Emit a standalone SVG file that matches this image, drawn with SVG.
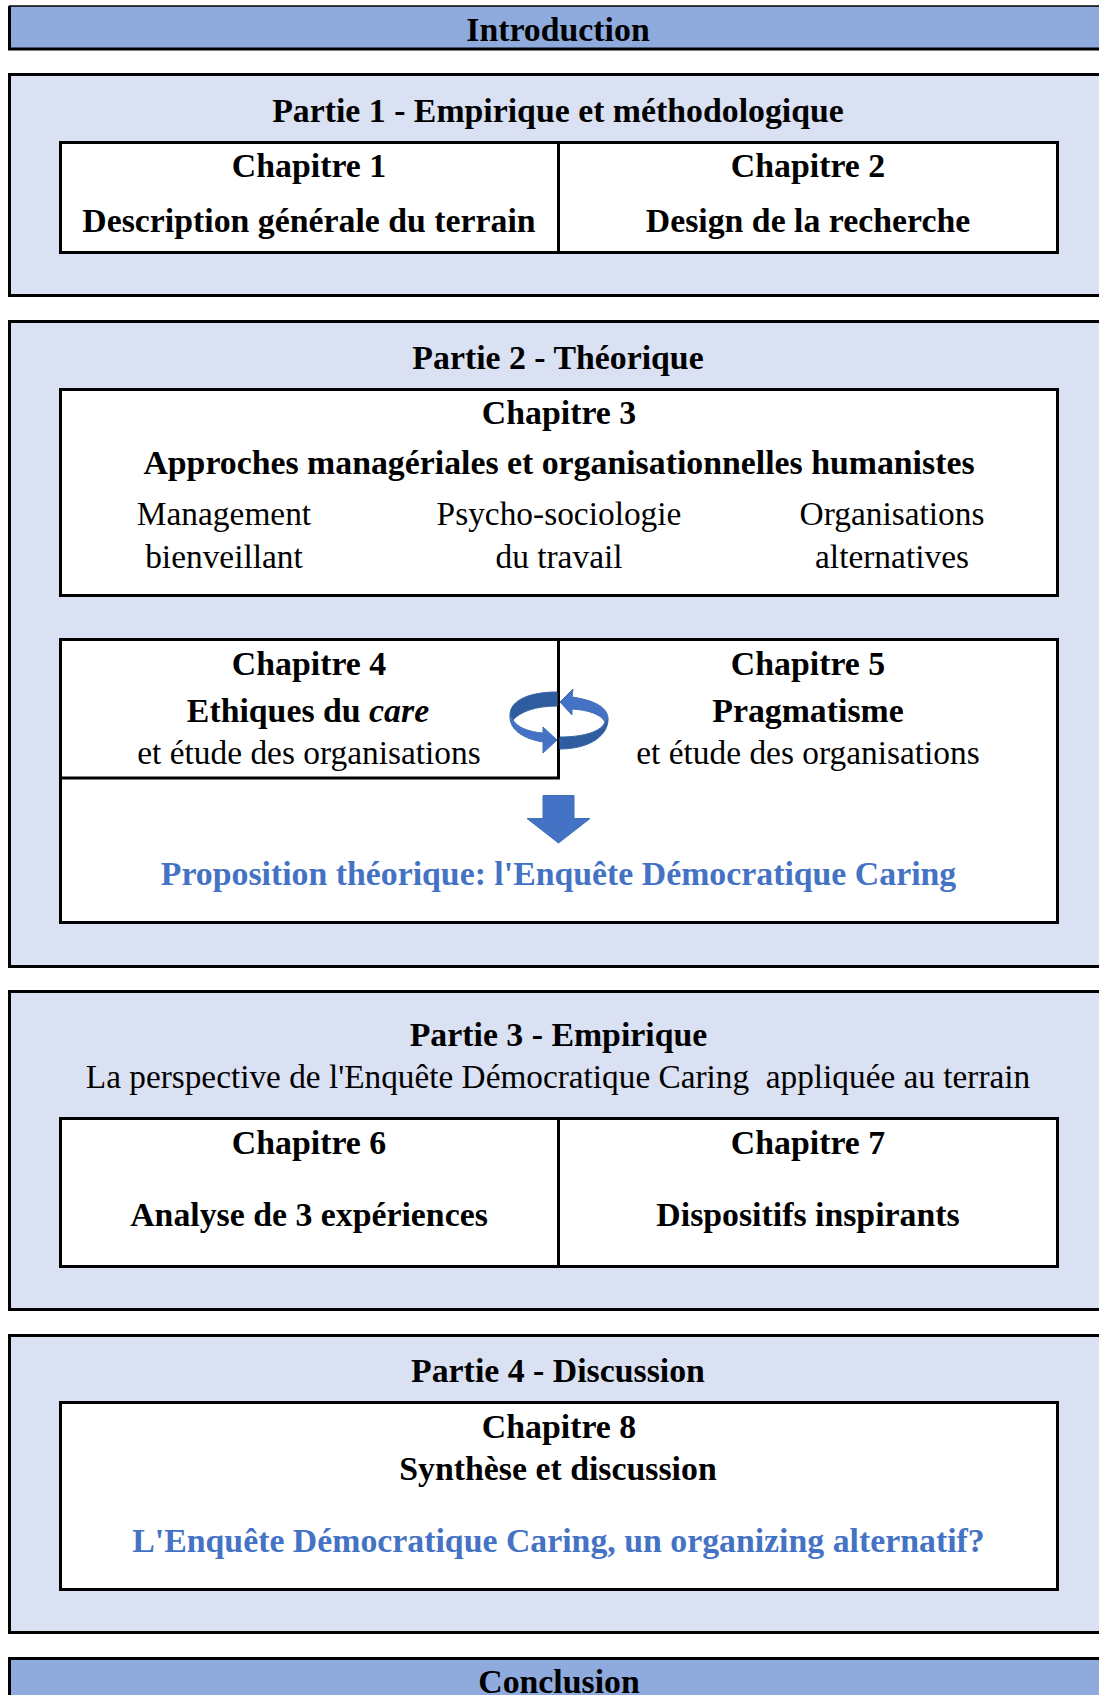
<svg xmlns="http://www.w3.org/2000/svg" width="1099" height="1695" viewBox="0 0 1099 1695">
<style>
text{font-family:"Liberation Serif","Times New Roman",serif;font-size:33.4px;text-anchor:middle;fill:#000}
.b{font-weight:bold;font-size:33.8px}
.l{fill:#4472c4;font-weight:bold;font-size:33.8px}
.dark{fill:#8faadc;stroke:#000;stroke-width:3}
.part{fill:#dae1f3;stroke:#000;stroke-width:3}
.box{fill:#fff;stroke:#000;stroke-width:3}
.ln{fill:none;stroke:#000;stroke-width:3}
.ar{fill:#4472c4;stroke:#3f6fb5;stroke-width:1}
.ard{fill:#2f5c9e;stroke:#3566a8;stroke-width:1}
</style>
<rect width="1099" height="1695" fill="#fff"/>
<g id="intro"><rect x="9.500" y="6" width="1095" height="43" fill="#8faadc"/><path class="ln" d="M8 49H1099M9.500 6V50"/><path d="M9 6H1099" stroke="#000" stroke-width="1.500" fill="none"/><text class="b" x="558" y="41">Introduction</text></g>
<g id="partie1"><rect class="part" x="9.500" y="74.500" width="1095" height="221"/><text class="b" x="558" y="122">Partie 1 - Empirique et méthodologique</text>
<rect class="box" x="60.500" y="142.500" width="997" height="110"/><path class="ln" d="M558.500 142V252"/>
<text class="b" x="309" y="177">Chapitre 1</text><text class="b" x="309" y="232">Description générale du terrain</text>
<text class="b" x="808" y="177">Chapitre 2</text><text class="b" x="808" y="232">Design de la recherche</text></g>
<g id="partie2"><rect class="part" x="9.500" y="321.500" width="1095" height="645"/><text class="b" x="558" y="369">Partie 2 - Théorique</text>
<rect class="box" x="60.500" y="389.500" width="997" height="206"/>
<text class="b" x="559" y="424">Chapitre 3</text><text class="b" x="559" y="474">Approches managériales et organisationnelles humanistes</text>
<text x="224" y="525">Management</text><text x="224" y="568">bienveillant</text>
<text x="559" y="525">Psycho-sociologie</text><text x="559" y="568">du travail</text>
<text x="892" y="525">Organisations</text><text x="892" y="568">alternatives</text>
<rect class="box" x="60.500" y="639.500" width="997" height="283"/><path class="ln" d="M60 778H558.500V639"/>
<text class="b" x="309" y="675">Chapitre 4</text><text class="b" x="308" y="722">Ethiques du <tspan font-style="italic">care</tspan></text><text x="309" y="764">et étude des organisations</text>
<text class="b" x="808" y="675">Chapitre 5</text><text class="b" x="808" y="722">Pragmatisme</text><text x="808" y="764">et étude des organisations</text>
<path class="ard" d="M557 692C530 692 510 700 510 715L513 720C520 712 535 706 557 706Z"/>
<path class="ar" d="M510 715C509 728 520 738 543 742L543 753L557 740L543 727L543 733C528 732 517 727 513 720Z"/>
<path class="ard" d="M560 737C585 737 602 731 605 722L608 718C609 735 590 749 560 749Z"/>
<path class="ar" d="M608 718C607 706 592 700 572 697L573 689L560 702L572 715L572 709C588 710 601 714 605 722Z"/>
<path class="ar" d="M543 795.500H574V818.500H590L558.500 843L527 818.500H543Z"/>
<text class="l" x="558.500" y="885">Proposition théorique: l'Enquête Démocratique Caring</text></g>
<g id="partie3"><rect class="part" x="9.500" y="991.500" width="1095" height="318"/><text class="b" x="558.500" y="1046">Partie 3 - Empirique</text>
<text x="558" y="1088" xml:space="preserve" style="font-size:33.3px">La perspective de l'Enquête Démocratique Caring  appliquée au terrain</text>
<rect class="box" x="60.500" y="1118.500" width="997" height="148"/><path class="ln" d="M558.500 1118V1266"/>
<text class="b" x="309" y="1154">Chapitre 6</text><text class="b" x="309" y="1226">Analyse de 3 expériences</text>
<text class="b" x="808" y="1154">Chapitre 7</text><text class="b" x="808" y="1226">Dispositifs inspirants</text></g>
<g id="partie4"><rect class="part" x="9.500" y="1335.500" width="1095" height="297"/><text class="b" x="558" y="1382">Partie 4 - Discussion</text>
<rect class="box" x="60.500" y="1402.500" width="997" height="187"/>
<text class="b" x="559" y="1438">Chapitre 8</text><text class="b" x="558" y="1480">Synthèse et discussion</text>
<text class="l" x="558.500" y="1552">L'Enquête Démocratique Caring, un organizing alternatif?</text></g>
<g id="conclusion"><rect class="dark" x="9.500" y="1658.500" width="1095" height="50"/><text class="b" x="559" y="1693">Conclusion</text></g>
<g id="connectors"></g>
</svg>
